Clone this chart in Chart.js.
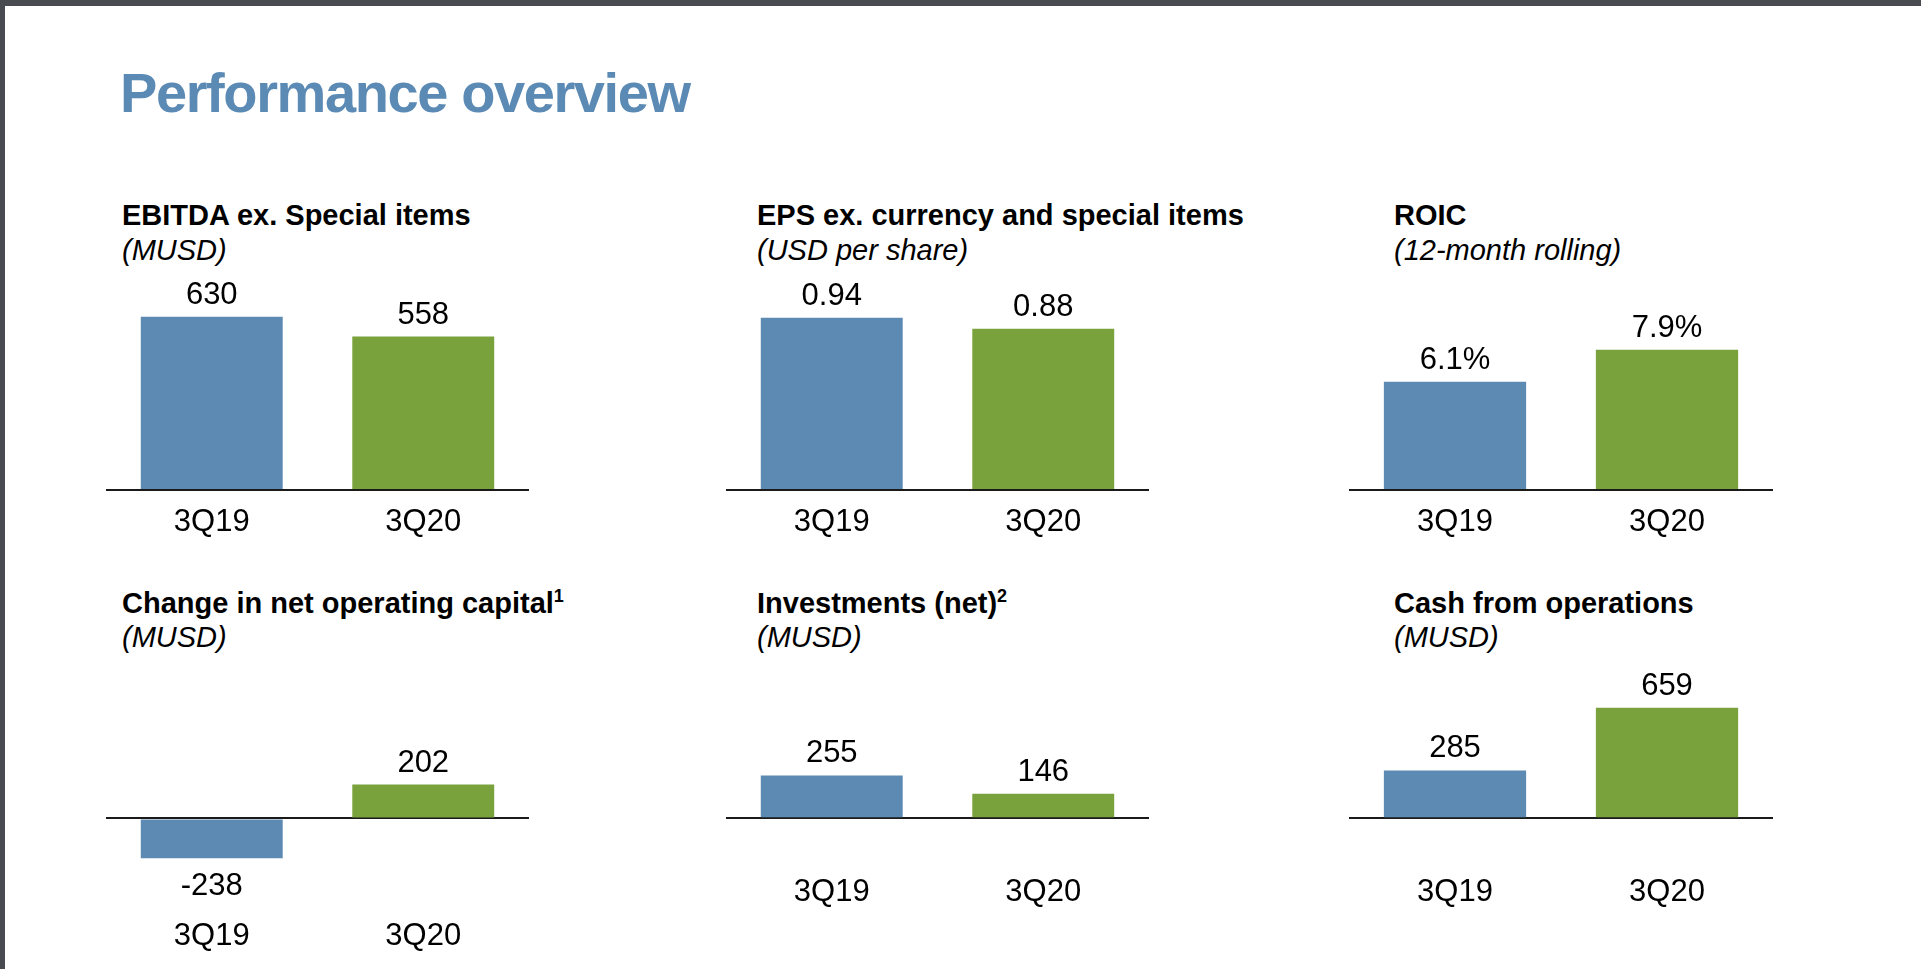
<!DOCTYPE html>
<html><head><meta charset="utf-8">
<script src="https://cdn.jsdelivr.net/npm/chart.js@4.4.0/dist/chart.umd.min.js"></script>
<style>
html,body{margin:0;padding:0;background:#fff;}
body{width:1921px;height:969px;position:relative;overflow:hidden;font-family:"Liberation Sans",Arial,Helvetica,sans-serif;}
.band-top{position:absolute;left:0;top:0;width:1921px;height:6px;background:#484b50;}
.band-left{position:absolute;left:0;top:0;width:5px;height:969px;background:#484b50;}
.title{position:absolute;left:120px;top:65px;font-size:56px;line-height:56px;font-weight:bold;color:#5b8ab5;letter-spacing:-1.4px;white-space:nowrap;}
.ptitle{position:absolute;font-size:29px;line-height:36px;font-weight:bold;color:#000;white-space:nowrap;}
.psub{position:absolute;font-size:29px;line-height:36px;font-style:italic;color:#000;white-space:nowrap;}
.sup{font-size:18px;position:relative;top:-11px;}
canvas{position:absolute;}
</style>
</head>
<body>
<div class="band-top"></div>
<div class="band-left"></div>
<div class="title">Performance overview</div>

<div class="ptitle" style="left:122px;top:197px;">EBITDA ex. Special items</div>
<div class="psub" style="left:122px;top:232px;">(MUSD)</div>
<div class="ptitle" style="left:757px;top:197px;">EPS ex. currency and special items</div>
<div class="psub" style="left:757px;top:232px;">(USD per share)</div>
<div class="ptitle" style="left:1394px;top:197px;">ROIC</div>
<div class="psub" style="left:1394px;top:232px;">(12-month rolling)</div>

<div class="ptitle" style="left:122px;top:585px;">Change in net operating capital<span class="sup">1</span></div>
<div class="psub" style="left:122px;top:619px;">(MUSD)</div>
<div class="ptitle" style="left:757px;top:585px;">Investments (net)<span class="sup">2</span></div>
<div class="psub" style="left:757px;top:619px;">(MUSD)</div>
<div class="ptitle" style="left:1394px;top:585px;">Cash from operations</div>
<div class="psub" style="left:1394px;top:619px;">(MUSD)</div>

<canvas id="c1"></canvas><canvas id="c2"></canvas><canvas id="c3"></canvas>
<canvas id="c4"></canvas><canvas id="c5"></canvas><canvas id="c6"></canvas>

<script>
// ---- data ----
const categories = ['3Q19', '3Q20'];
const ebitda = [630, 558];
const eps = [0.94, 0.88];
const roic = [6.1, 7.9];
const netOperatingCapital = [-238, 202];
const investments = [255, 146];
const cashFromOperations = [285, 659];

// ---- styles ----
const BLUE = '#5d8ab3';
const GREEN = '#79a23c';
const FONT = '"Liberation Sans", Arial, Helvetica, sans-serif';

const fmtInt = v => String(v);
const fmt2 = v => v.toFixed(2);
const fmtPct = v => v.toFixed(1) + '%';

const panels = [
  {id:'c1', data:ebitda, fmt:fmtInt, min:0, max:800, left:106, top:270, width:423, height:280},
  {id:'c2', data:eps, fmt:fmt2, min:0, max:1.2, left:726, top:270, width:423, height:280},
  {id:'c3', data:roic, fmt:fmtPct, min:0, max:12.4, left:1349, top:270, width:424, height:280},
  {id:'c4', data:netOperatingCapital, fmt:fmtInt, min:-510, max:950, left:106, top:659, width:423, height:305},
  {id:'c5', data:investments, fmt:fmtInt, min:-250, max:950, left:726, top:659, width:423, height:261},
  {id:'c6', data:cashFromOperations, fmt:fmtInt, min:-250, max:950, left:1349, top:659, width:424, height:261}
];
const fmtById = {};
panels.forEach(p => fmtById[p.id] = p.fmt);

const valueLabels = {
  id: 'valueLabels',
  afterDatasetsDraw(chart) {
    const ctx = chart.ctx;
    const meta = chart.getDatasetMeta(0);
    const vals = chart.data.datasets[0].data;
    const fmt = fmtById[chart.canvas.id];
    ctx.save();
    ctx.font = '31px ' + FONT;
    ctx.fillStyle = '#000';
    ctx.textAlign = 'center';
    ctx.textBaseline = 'alphabetic';
    meta.data.forEach((bar, i) => {
      const v = vals[i];
      const y = v >= 0 ? bar.y - 13 : bar.y + 37;
      ctx.fillText(fmt(v), bar.x, y);
    });
    ctx.restore();
  }
};

panels.forEach(p => {
  const cv = document.getElementById(p.id);
  cv.width = p.width; cv.height = p.height;
  cv.style.left = p.left + 'px'; cv.style.top = p.top + 'px';
  cv.style.width = p.width + 'px'; cv.style.height = p.height + 'px';
  new Chart(cv, {
    type: 'bar',
    data: {
      labels: categories,
      datasets: [{
        data: p.data,
        backgroundColor: [BLUE, GREEN],
        borderWidth: 0,
        barPercentage: 0.671,
        categoryPercentage: 1.0
      }]
    },
    options: {
      responsive: false,
      animation: false,
      devicePixelRatio: 1,
      layout: {padding: 0},
      plugins: {legend: {display: false}, tooltip: {enabled: false}, title: {display: false}},
      scales: {
        x: {
          grid: {display: false, drawTicks: false},
          border: {display: false},
          ticks: {color: '#000', font: {family: FONT, size: 31}, padding: 14},
          afterFit: s => { s.height = 60; }
        },
        y: {
          min: p.min, max: p.max,
          z: 1,
          border: {display: false},
          ticks: {display: false},
          grid: {drawTicks: false, color: '#1a1a1a', lineWidth: 2},
          afterBuildTicks: s => { s.ticks = [{value: 0}]; },
          afterFit: s => { s.width = 0; }
        }
      }
    },
    plugins: [valueLabels]
  });
});
</script>
</body></html>
